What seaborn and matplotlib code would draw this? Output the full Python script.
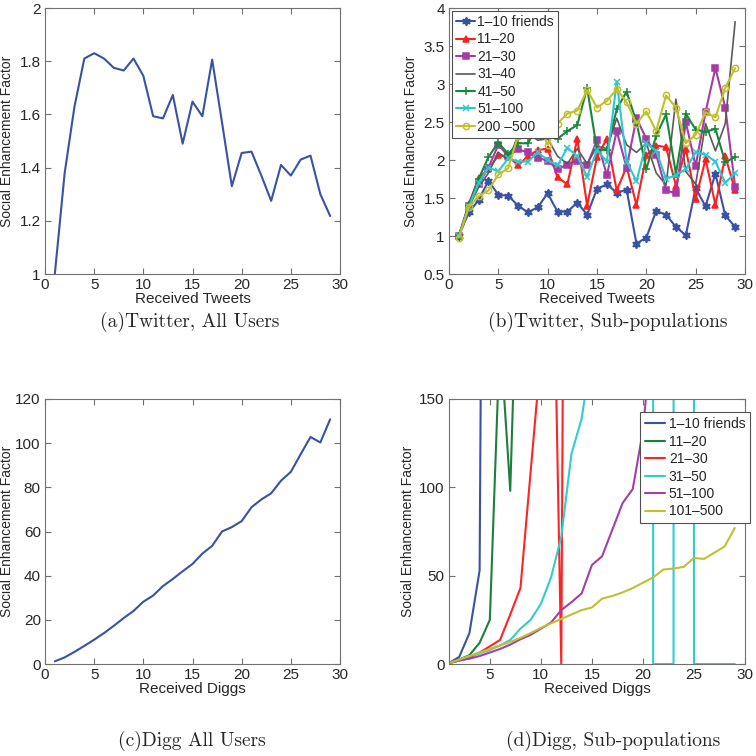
import numpy as np
import pandas as pd
import seaborn as sns
import matplotlib.pyplot as plt
from matplotlib.ticker import FormatStrFormatter

sns.set_style("ticks")
plt.rcParams['font.family'] = ['Liberation Sans', 'DejaVu Sans']

# (a) Twitter, all users
tweets_all = [1.0, 1.38, 1.63, 1.81, 1.83, 1.81, 1.775, 1.765, 1.81, 1.745,
              1.593, 1.585, 1.673, 1.49, 1.648, 1.593, 1.806, 1.57, 1.33, 1.455,
              1.46, 1.37, 1.275, 1.41, 1.37, 1.43, 1.445, 1.30, 1.218]

# (b) Twitter, sub-populations
tw_labels = ["1\u201310 friends", "11\u201320", "21\u201330", "31\u201340",
             "41\u201350", "51\u2013100", "200 \u2013500"]
tw_1_10 = [1.0, 1.31, 1.47, 1.73, 1.54, 1.53, 1.40, 1.31, 1.38, 1.56,
           1.32, 1.32, 1.44, 1.28, 1.62, 1.68, 1.57, 1.61, 0.90, 0.98,
           1.33, 1.28, 1.12, 1.01, 1.63, 1.39, 1.82, 1.27, 1.12]
tw_11_20 = [1.0, 1.42, 1.76, 1.88, 2.06, 2.05, 1.93, 2.05, 2.13, 2.15,
            1.77, 1.68, 2.28, 1.40, 2.04, 2.28, 1.60, 1.91, 1.41, 2.06,
            2.19, 2.17, 1.66, 2.15, 1.49, 2.01, 1.41, 2.05, 1.60]
tw_21_30 = [1.0, 1.40, 1.68, 1.90, 2.20, 2.05, 2.14, 2.10, 2.03, 1.99,
            1.88, 1.94, 1.99, 1.93, 2.26, 1.80, 2.38, 1.90, 2.55, 2.28,
            2.07, 1.60, 1.56, 2.50, 1.92, 2.63, 3.21, 2.69, 1.65]
tw_31_40 = [1.0, 1.38, 1.64, 1.83, 2.10, 2.00, 2.32, 2.35, 2.26, 2.28,
            2.05, 1.95, 2.15, 1.95, 2.18, 2.15, 2.55, 2.20, 2.10, 2.22,
            1.83, 1.67, 2.80, 1.85, 1.68, 2.48, 2.12, 2.48, 3.82]
tw_41_50 = [1.0, 1.40, 1.75, 2.04, 2.23, 2.08, 2.22, 2.22, 2.45, 2.55,
            2.28, 2.38, 2.46, 2.95, 2.13, 2.13, 2.67, 2.90, 2.50, 1.88,
            2.32, 2.60, 1.82, 2.61, 2.40, 2.37, 2.41, 1.97, 2.04]
tw_51_100 = [1.0, 1.38, 1.70, 1.90, 1.85, 2.02, 1.98, 1.98, 2.10, 2.00,
             1.93, 2.16, 2.05, 1.78, 2.13, 1.98, 3.03, 1.98, 1.72, 2.22,
             2.12, 1.75, 1.80, 1.88, 2.10, 2.07, 1.98, 1.70, 1.83]
tw_200_500 = [0.98, 1.38, 1.52, 1.60, 1.81, 1.89, 2.32, 2.45, 2.50, 2.20,
              2.48, 2.61, 2.65, 2.92, 2.69, 2.78, 2.93, 2.76, 2.48, 2.64,
              2.38, 2.85, 2.69, 2.22, 2.33, 2.63, 2.56, 2.95, 3.21]

# (c) Digg, all users
digg_all = [1.2, 3.0, 5.5, 8.2, 11.0, 14.0, 17.3, 20.8, 24.0, 28.2,
            31.0, 35.3, 38.5, 42.0, 45.3, 50.0, 53.5, 60.0, 62.0, 64.7,
            71.0, 74.5, 77.3, 83.0, 87.0, 95.0, 102.8, 100.3, 110.8]

# (d) Digg, sub-populations (values above 150 run off the top of the axes)
dg_labels = ["1\u201310 friends", "11\u201320", "21\u201330", "31\u201350",
             "51\u2013100", "101\u2013500"]
dg_1_10 = [0.5, 4.0, 17.5, 53.0, 1000.0, 2000.0]
dg_11_20 = [0.5, 2.5, 5.0, 12.0, 25.0, 187.0, 98.0, 290.0, 500.0]
dg_21_30 = [0.5, 2.0, 3.5, 6.5, 10.0, 13.6, 28.0, 43.0, 109.0, 175.0,
            312.0, 0.0, 1070.0]
dg_31_50 = [0.5, 2.0, 4.5, 6.0, 8.0, 10.5, 13.6, 20.0, 25.0, 34.0,
            49.0, 72.0, 119.0, 139.0, 178.0, 400.0, 1000.0, 2000.0, 5000.0, 1e5,
            0.0, 0.0, 0.0, 1e5, 0.0, 0.0, 0.0, 0.0, 0.0]
dg_51_100 = [0.5, 2.0, 3.0, 4.5, 6.5, 8.5, 11.0, 14.0, 16.5, 20.0,
             23.5, 30.5, 35.0, 40.0, 56.0, 61.0, 76.0, 91.0, 99.0, 132.0, 196.0]
dg_101_500 = [0.5, 2.5, 4.5, 6.5, 8.5, 10.5, 12.5, 14.8, 17.5, 20.5,
              23.0, 25.5, 28.0, 30.5, 32.0, 37.0, 38.5, 40.5, 43.0, 46.0,
              49.0, 53.5, 54.0, 55.0, 60.0, 59.5, 63.0, 66.5, 77.0]

BLUE = '#3a52a4'


def series(vals):
    return pd.DataFrame({'x': np.arange(1, len(vals) + 1), 'y': vals})


def style_axes(ax, label_x):
    ax.tick_params(direction='in', top=True, right=True, length=4, width=0.8,
                   color='#707070', labelsize=11, pad=3)
    for s in ax.spines.values():
        s.set_color('#707070')
        s.set_linewidth(0.8)
    ax.set_ylabel('Social Enhancement Factor', fontsize=10)
    ax.yaxis.set_label_coords(label_x, 0.5)


fig = plt.figure(figsize=(7.56, 7.56), dpi=100)
ax_a = fig.add_axes([45 / 756, 1 - 274 / 756, 295 / 756, 266 / 756])
ax_b = fig.add_axes([449 / 756, 1 - 274 / 756, 296 / 756, 266 / 756])
ax_c = fig.add_axes([45 / 756, 1 - 664 / 756, 295 / 756, 265 / 756])
ax_d = fig.add_axes([449 / 756, 1 - 664 / 756, 296 / 756, 265 / 756])

# (a)
sns.lineplot(data=series(tweets_all), x='x', y='y', ax=ax_a, color=BLUE, lw=1.5)
ax_a.set_xlim(0, 30)
ax_a.set_ylim(1, 2)
ax_a.set_xticks([0, 5, 10, 15, 20, 25, 30])
ax_a.set_yticks([1, 1.2, 1.4, 1.6, 1.8, 2])
ax_a.yaxis.set_major_formatter(FormatStrFormatter('%g'))
ax_a.set_xlabel('Received Tweets', fontsize=11, labelpad=0)
style_axes(ax_a, -0.105)

# (b)
tw_series = [tw_1_10, tw_11_20, tw_21_30, tw_31_40, tw_41_50, tw_51_100, tw_200_500]
tw_colors = [BLUE, '#ff1f1f', '#a53aa8', '#5a5a5a', '#17873a', '#2ec8cc', '#c0c02a']
tw_markers = [(6, 1, 0), '^', 's', None, '+', 'x', 'o']
tw_sizes = [6, 5, 4.2, 0, 6, 5, 4.5]
for vals, lab, col, mk, sz in zip(tw_series, tw_labels, tw_colors, tw_markers, tw_sizes):
    kw = dict(marker=mk, ms=sz, mec=col, mew=1.1)
    if mk == 'o':
        kw['mfc'] = 'none'
    if mk is None:
        kw = dict(lw=1.2)
    sns.lineplot(data=series(vals), x='x', y='y', ax=ax_b, color=col,
                 lw=kw.pop('lw', 1.5), label=lab, **kw)
ax_b.set_xlim(0, 30)
ax_b.set_ylim(0.5, 4)
ax_b.set_xticks([0, 5, 10, 15, 20, 25, 30])
ax_b.set_yticks([0.5, 1, 1.5, 2, 2.5, 3, 3.5, 4])
ax_b.yaxis.set_major_formatter(FormatStrFormatter('%g'))
ax_b.set_xlabel('Received Tweets', fontsize=11, labelpad=0)
style_axes(ax_b, -0.105)
leg = ax_b.legend(loc='upper left', bbox_to_anchor=(0.0, 1.0), fontsize=10,
                  frameon=True, fancybox=False, edgecolor='#505050',
                  framealpha=1, handlelength=1.4, handletextpad=0.15,
                  labelspacing=0.25, borderpad=0.3, borderaxespad=0.2)
leg.get_frame().set_linewidth(0.8)

# (c)
sns.lineplot(data=series(digg_all), x='x', y='y', ax=ax_c, color=BLUE, lw=1.5)
ax_c.set_xlim(0, 30)
ax_c.set_ylim(0, 120)
ax_c.set_xticks([0, 5, 10, 15, 20, 25, 30])
ax_c.set_yticks([0, 20, 40, 60, 80, 100, 120])
ax_c.set_xlabel('Received Diggs', fontsize=11, labelpad=0)
style_axes(ax_c, -0.105)

# (d)
dg_series = [dg_1_10, dg_11_20, dg_21_30, dg_31_50, dg_51_100, dg_101_500]
dg_colors = [BLUE, '#1d7f3e', '#ff2424', '#33cccc', '#a33fa6', '#c0c030']
for vals, lab, col in zip(dg_series, dg_labels, dg_colors):
    sns.lineplot(data=series(vals), x='x', y='y', ax=ax_d, color=col,
                 lw=1.5, label=lab)
ax_d.set_xlim(1, 30)
ax_d.set_ylim(0, 150)
ax_d.set_xticks([5, 10, 15, 20, 25, 30])
ax_d.set_yticks([0, 50, 100, 150])
ax_d.set_xlabel('Received Diggs', fontsize=11, labelpad=0)
style_axes(ax_d, -0.115)
leg = ax_d.legend(loc='upper right', bbox_to_anchor=(1.018, 0.95), fontsize=10,
                  frameon=True, fancybox=False, edgecolor='#505050',
                  framealpha=1, handlelength=1.4, handletextpad=0.3,
                  labelspacing=0.25, borderpad=0.35, borderaxespad=0.0)
leg.get_frame().set_linewidth(0.8)

# captions
cap = dict(ha='center', va='center', family='cmr10', fontsize=14)
fig.text(190 / 756, 1 - 322 / 756, '(a)Twitter, All Users', **cap)
fig.text(608 / 756, 1 - 322 / 756, '(b)Twitter, Sub-populations', **cap)
fig.text(192 / 756, 1 - 741 / 756, '(c)Digg All Users', **cap)
fig.text(613 / 756, 1 - 741 / 756, '(d)Digg, Sub-populations', **cap)

fig.savefig('out.png', dpi=100)
